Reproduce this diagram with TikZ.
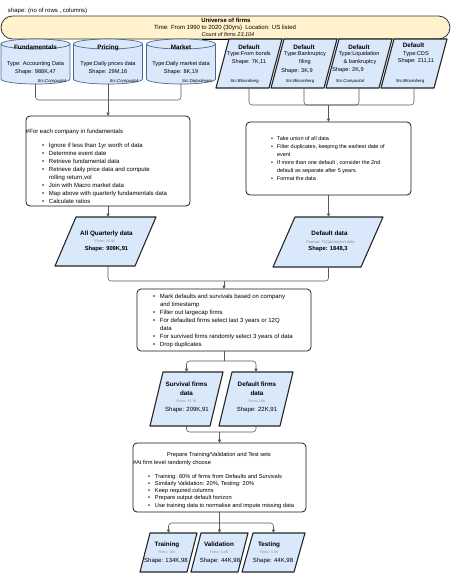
\documentclass[tikz,border=0pt]{standalone}
\usepackage{fontspec}
\setmainfont{Liberation Sans}
\usetikzlibrary{arrows.meta}
\definecolor{bluefill}{HTML}{DAE8FC}
\definecolor{cylstroke}{HTML}{4A6890}
\definecolor{yelfill}{HTML}{FFF2CC}
\definecolor{conngray}{HTML}{5A5A5A}
\definecolor{tinygray}{HTML}{8A8A8A}
\newcommand{\myfs}[2]{\fontsize{#1}{#2}\selectfont}
\newcommand{\mybul}[1][7pt]{\makebox[#1][l]{\textbullet}}
\begin{document}
\begin{tikzpicture}[x=1pt,y=-1pt,
  every node/.style={inner sep=0pt, outer sep=0pt},
  lbl/.style={anchor=base, font=\myfs{6}{8}},
  lbls/.style={anchor=base, font=\myfs{5.6}{8}},
  ttl/.style={anchor=base, font=\myfs{6.3}{8}\bfseries},
  bsh/.style={anchor=base, font=\myfs{5.8}{8}\bfseries},
  tiny/.style={anchor=base, font=\myfs{3.5}{4}, text=tinygray},
  srcl/.style={anchor=base, font=\myfs{4.3}{5}\itshape},
  para/.style={draw=black!85, line width=1.1pt, fill=bluefill, line join=round},
  cylfill/.style={draw=cylstroke, line width=0.7pt, fill=bluefill},
  cylline/.style={draw=cylstroke, line width=0.7pt},
  proc/.style={draw=black!90, line width=0.8pt, rounded corners=4pt, fill=white},
  banner/.style={draw=black!80, line width=0.8pt, rounded corners=11.5pt, fill=yelfill},
  conn/.style={draw=conngray, line width=0.55pt, rounded corners=3pt},
  arr/.style={conn, -{Triangle[length=3.5pt,width=3.2pt]}},
]
\useasboundingbox (0,0) rectangle (452,574);
\fill[white] (0,0) rectangle (452,574);

% ---------- header and banner
\node[anchor=base west, font=\myfs{6}{8}] (hdr) at (8,12) {shape: (no of rows , columns)};
\node[banner, minimum width=449pt, minimum height=23pt] (uni) at (225.5,27.5) {};
\node[anchor=base, font=\myfs{6}{8}\bfseries] (u1) at (226,22.5) {Universe of firms};
\node[lbl] (u2) at (225,29.8) {Time: From 1990 to 2020 (30yrs)\ \ Location: US listed};
\node[anchor=base, font=\myfs{5.5}{7}\itshape] (u3) at (228,36.8) {\underline{Count of firms 23,104}};

% ---------- cylinders
\node[minimum width=69pt, minimum height=45pt] (fund) at (35.5,61.5) {};
\node[minimum width=69pt, minimum height=45pt] (pri) at (108,61.5) {};
\node[minimum width=69pt, minimum height=45pt] (mkt) at (181,61.5) {};
\foreach \xa in {1,73.5,146.5} {
  \path[cylfill] (\xa,44) -- (\xa,79) arc[start angle=180,end angle=0,x radius=34.5,y radius=5]
     -- ({\xa+69},44) arc[start angle=0,end angle=-180,x radius=34.5,y radius=5] -- cycle;
  \draw[cylline] (\xa,44) arc[start angle=180,end angle=0,x radius=34.5,y radius=5];
}
\node[ttl] (fund-t) at (35.5,49.5) {Fundamentals};
\node[lbls] (fund-a) at (35.5,65) {Type: Accounting Data};
\node[lbls] (fund-b) at (35.5,73) {Shape: 988K,47};
\node[srcl, anchor=base east] (fund-c) at (66,82) {Src:Compustat};
\node[ttl] (pri-t) at (108,49.5) {Pricing};
\node[lbls] (pri-a) at (108,65) {Type:Daily prices data};
\node[lbls] (pri-b) at (108,73) {Shape: 29M,16};
\node[srcl, anchor=base east] (pri-c) at (138,82) {Src:Compustat};
\node[ttl] (mkt-t) at (181,49.5) {Market};
\node[lbls] (mkt-a) at (181,65) {Type:Daily market data};
\node[lbls] (mkt-b) at (181,73) {Shape: 8K,19};
\node[srcl, anchor=base east] (mkt-c) at (212,82) {Src:Datastream};

% ---------- placeholders for parallelograms
\node[minimum width=66pt, minimum height=49pt] (d1) at (249,63.5) {};
\node[minimum width=66pt, minimum height=49pt] (d2) at (304,63.5) {};
\node[minimum width=66pt, minimum height=49pt] (d3) at (359,63.5) {};
\node[minimum width=66pt, minimum height=49pt] (d4) at (414,63.5) {};
\node[minimum width=101pt, minimum height=49pt] (aq) at (105.5,241.5) {};
\node[minimum width=110pt, minimum height=50pt] (dd) at (328,242) {};
\node[minimum width=73pt, minimum height=54pt] (sv) at (186.5,399) {};
\node[minimum width=74pt, minimum height=54pt] (df) at (256,399) {};
\node[minimum width=57pt, minimum height=39pt] (tr) at (168.5,552.5) {};
\node[minimum width=57pt, minimum height=39pt] (va) at (219.5,552.5) {};
\node[minimum width=63pt, minimum height=39pt] (te) at (273.5,552.5) {};
\foreach \n/\s in {d1/13,d2/13,d3/13,d4/13,aq/21,dd/22,sv/13,df/13,tr/10,va/10,te/11} {
  \draw[para] ([xshift=\s pt]\n.north west) -- (\n.north east)
     -- ([xshift=-\s pt]\n.south east) -- (\n.south west) -- cycle;
}

% ---------- default sources text
\node[ttl] (d1-t) at (249,49) {Default};
\node[lbls] (d1-a) at (249,55.5) {Type:From bonds};
\node[lbls] (d1-b) at (249,63.5) {Shape: 7K,11};
\node[srcl] (d1-c) at (244.5,82.5) {Src:Bloomberg};
\node[ttl] (d2-t) at (304,49) {Default};
\node[lbls] (d2-a) at (305,55.5) {Type:Bankruptcy};
\node[lbls] (d2-b) at (305,63.5) {filing};
\node[lbls] (d2-e) at (297,72) {Shape: 3K,9};
\node[srcl] (d2-c) at (300,82.5) {Src:Bloomberg};
\node[ttl] (d3-t) at (359,49) {Default};
\node[lbls] (d3-a) at (359,55.5) {Type:Liquidation};
\node[lbls] (d3-b) at (360,63.5) {\& bankruptcy};
\node[lbls] (d3-e) at (348,71.5) {Shape: 2K,9};
\node[srcl] (d3-c) at (350,82.5) {Src:Compustat};
\node[ttl] (d4-t) at (413.5,47) {Default};
\node[lbls] (d4-a) at (416,55) {Type:CDS};
\node[lbls] (d4-b) at (416,62.5) {Shape: 211,11};
\node[srcl] (d4-c) at (410,82.5) {Src:Bloomberg};

% ---------- process boxes
\node[proc, minimum width=164pt, minimum height=90pt] (p1) at (108,161) {};
\node[proc, minimum width=165pt, minimum height=73pt] (p2) at (328.5,158.5) {};
\node[proc, minimum width=174pt, minimum height=62pt] (p3) at (224,320) {};
\node[proc, minimum width=173pt, minimum height=69pt] (p4) at (219.5,477.5) {};

\node[anchor=base west, font=\myfs{6}{8}] (p1h) at (26,133) {\#For each company in fundamentals};
\node[anchor=base west, font=\myfs{6}{8}] (p1l) at (42,147) {\begin{tabular}[t]{@{}l@{}}
\mybul Ignore if less than 1yr worth of data\\
\mybul Determine event date\\
\mybul Retrieve fundamental data\\
\mybul Retrieve daily price data and compute\\
\hspace*{7pt}rolling return,vol\\
\mybul Join with Macro market data\\
\mybul Map above with quarterly fundamentals data\\
\mybul Calculate ratios
\end{tabular}};

\node[anchor=base west, font=\myfs{5.5}{8.1}] (p2l) at (271,140) {\begin{tabular}[t]{@{}l@{}}
\mybul[6pt]Take union of all data\\
\mybul[6pt]Filter duplicates, keeping the earliest date of\\
\hspace*{6pt}event\\
\mybul[6pt]If more than one default , consider the 2nd\\
\hspace*{6pt}default as separate after 5 years\\
\mybul[6pt]Format the data
\end{tabular}};

\node[anchor=base west, font=\myfs{6}{8}] (p3l) at (153,298) {\begin{tabular}[t]{@{}l@{}}
\mybul Mark defaults and survivals based on company\\
\hspace*{7pt}and timestamp\\
\mybul Filter out largecap firms\\
\mybul For defaulted firms select last 3 years or 12Q\\
\hspace*{7pt}data\\
\mybul For survived firms randomly select 3 years of data\\
\mybul Drop duplicates
\end{tabular}};

\node[anchor=base, font=\myfs{5.7}{8}] (p4h) at (219,456) {Prepare Training/Validation and Test sets};
\node[anchor=base west, font=\myfs{5.7}{8}] (p4s) at (133,464.5) {\#At firm level randomly choose};
\node[anchor=base west, font=\myfs{5.7}{7.3}] (p4l) at (148,478) {\begin{tabular}[t]{@{}l@{}}
\mybul Training: 60\% of firms from Defaults and Survivals\\
\mybul Similarly Validation: 20\%, Testing: 20\%\\
\mybul Keep required columns\\
\mybul Prepare output default horizon\\
\mybul Use training data to normalise and impute missing data
\end{tabular}};

% ---------- data parallelogram texts
\node[ttl] (aq-t) at (106.5,235.5) {All Quarterly data};
\node[tiny] (aq-f) at (105,242.3) {Firms: 22.9k};
\node[bsh] (aq-s) at (106.5,250.5) {Shape: 909K,91};
\node[ttl] (dd-t) at (329.5,235) {Default data};
\node[tiny, font=\myfs{4}{5}] (dd-f) at (330.5,243) {Format: TIC|date|next date};
\node[bsh] (dd-s) at (328,250.5) {Shape: 1848,3};

\node[ttl] (sv-t) at (186.5,386) {Survival firms};
\node[ttl] (sv-u) at (186.5,395) {data};
\node[tiny] (sv-f) at (186.5,402.5) {Firms: 15.7K};
\node[lbl] (sv-s) at (187,411) {Shape: 209K,91};
\node[ttl] (df-t) at (257,386) {Default firms};
\node[ttl] (df-u) at (257,395) {data};
\node[tiny] (df-f) at (257,402.5) {Firms:1.8K};
\node[lbl] (df-s) at (257,411) {Shape: 22K,91};

\node[ttl] (tr-t) at (167,546) {Training};
\node[tiny] (tr-f) at (167,553.5) {Firms: 10K};
\node[lbl] (tr-s) at (166,562) {Shape: 134K,98};
\node[ttl] (va-t) at (219,546) {Validation};
\node[tiny] (va-f) at (219,553.5) {Firms: 3.4K};
\node[lbl] (va-s) at (220,562) {Shape: 44K,98};
\node[ttl] (te-t) at (269,546) {Testing};
\node[tiny] (te-f) at (269,553.5) {Firms: 3.4K};
\node[lbl] (te-s) at (273,562) {Shape: 44K,98};

% ---------- connectors
\coordinate (j1) at (108,100);
\draw[conn] (fund.south) |- (j1);
\draw[conn] (mkt.south) |- (j1);
\draw[arr] (pri.south) -- (p1.north);

\coordinate (j2) at (328.5,105);
\draw[conn] (d1.south) |- (j2);
\draw[conn] (d2.south) |- (j2);
\draw[conn] (d3.south) |- (j2);
\draw[conn] (d4.south) |- (j2);
\draw[arr] (j2) -- (p2.north);

\draw[arr] (p1.south) -- (p1.south |- aq.north);
\draw[arr] (p2.south) -- (p2.south |- dd.north);

\coordinate (m1) at (224,281);
\draw[conn] (p1.south |- aq.south) |- (m1);
\draw[conn] (p2.south |- dd.south) |- (m1);
\draw[arr] (m1) -- (p3.north);

\coordinate (m2) at (224,361);
\draw[conn] (p3.south) -- (m2);
\draw[arr] (m2) -| (sv.north);
\draw[arr] (m2) -| (df.north);

\coordinate (m3) at (219.5,432);
\draw[conn] (sv.south) |- (m3);
\draw[conn] (df.south) |- (m3);
\draw[arr] (m3) -- (p4.north);

\coordinate (m4) at (219.5,523);
\draw[conn] (p4.south) -- (m4);
\draw[arr] (m4) -| (tr.north);
\draw[arr] (m4) -- (va.north);
\draw[arr] (m4) -| (te.north);
\end{tikzpicture}
\end{document}
